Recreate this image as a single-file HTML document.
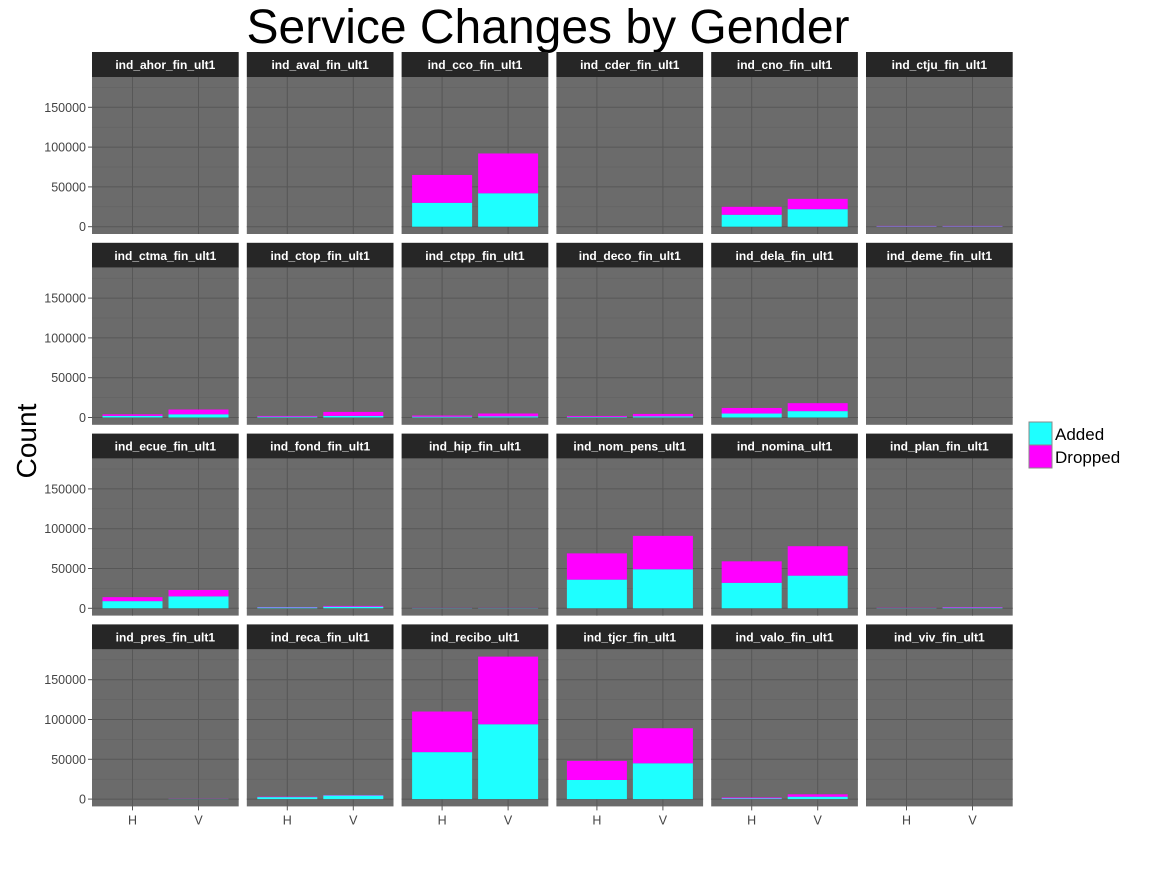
<!DOCTYPE html>
<html><head><meta charset="utf-8"><style>
body{margin:0;background:#fff;width:1152px;height:864px;overflow:hidden}
svg text{font-family:"Liberation Sans",sans-serif}
</style></head><body>
<svg id="chart" width="1152" height="864" xmlns="http://www.w3.org/2000/svg">
<text x="548" y="43" font-size="48" text-anchor="middle" fill="#000">Service Changes by Gender</text>
<text transform="translate(36,441) rotate(-90)" font-size="28" text-anchor="middle" fill="#000">Count</text>
<g>
<rect x="1029" y="422" width="23" height="23" fill="#1effff" stroke="#888"/>
<rect x="1029" y="445" width="23" height="23" fill="#ff00ff" stroke="#888"/>
<text x="1055" y="440" font-size="17">Added</text>
<text x="1055" y="463" font-size="17">Dropped</text>
</g>
<g id="panels"></g>
</svg>
<script>
const panelNames = ["ind_ahor_fin_ult1","ind_aval_fin_ult1","ind_cco_fin_ult1","ind_cder_fin_ult1","ind_cno_fin_ult1","ind_ctju_fin_ult1",
"ind_ctma_fin_ult1","ind_ctop_fin_ult1","ind_ctpp_fin_ult1","ind_deco_fin_ult1","ind_dela_fin_ult1","ind_deme_fin_ult1",
"ind_ecue_fin_ult1","ind_fond_fin_ult1","ind_hip_fin_ult1","ind_nom_pens_ult1","ind_nomina_ult1","ind_plan_fin_ult1",
"ind_pres_fin_ult1","ind_reca_fin_ult1","ind_recibo_ult1","ind_tjcr_fin_ult1","ind_valo_fin_ult1","ind_viv_fin_ult1"];
const genders = ["H","V"];
const addedH =   [0,0,30000,0,15000,500, 2000,1000,1000,800,5000,0, 9000,1000,300,36000,32000,300, 0,2500,59000,24000,1000,0];
const addedV =   [0,0,42000,0,22000,500, 4000,2000,1500,1500,8000,0, 15000,2000,300,49000,41000,800, 200,4500,94000,45000,3000,0];
const droppedH = [0,0,35000,0,10000,500, 2000,1000,1500,1200,7000,0, 5000,500,200,33000,27000,300, 0,500,51000,24000,1000,0];
const droppedV = [0,0,50000,0,13000,500, 6000,5000,3500,3000,10000,0, 8000,1000,200,42000,37000,700, 200,500,85000,44000,3000,0];
const yTicks = [0,50000,100000,150000];
const yTickLabels = ["0","50000","100000","150000"];

const NS="http://www.w3.org/2000/svg";
const g=document.getElementById('panels');
const colX0=92, colStep=154.8, pw=146.7, rowY0=52, rowStep=190.8, stripH=25, ph=157;
function mk(tag,attrs,parent){const e=document.createElementNS(NS,tag);for(const k in attrs)e.setAttribute(k,attrs[k]);parent.appendChild(e);return e;}
function yScale(v,top){return top+149.7-v*0.000796;}
function xScale(i,left){return left+40.5+i*66;}
panelNames.forEach((name,p)=>{
  const r=Math.floor(p/6), c=p%6;
  const left=colX0+c*colStep, sTop=rowY0+r*rowStep, top=sTop+stripH;
  const pg=mk('g',{},g);
  
  
  const strip=mk('rect',{x:left,y:sTop,width:pw,height:stripH,fill:'#262626'},pg);
  
  
  const st=mk('text',{x:left+pw/2,y:sTop+17,'font-size':12,'font-weight':'bold',fill:'#fff','text-anchor':'middle'},pg);
  st.textContent=name;
  
  
  const bg=mk('rect',{x:left,y:top,width:pw,height:ph,fill:'#6b6b6b'},pg);
  
  
  for(let k=0;k<4;k++){const y=yScale(25000+k*50000,top);mk('line',{x1:left,x2:left+pw,y1:y,y2:y,stroke:'#626262','stroke-width':0.6},pg);}
  yTicks.forEach(t=>{const y=yScale(t,top);mk('line',{x1:left,x2:left+pw,y1:y,y2:y,stroke:'#575757','stroke-width':1},pg);});
  genders.forEach((gd,i)=>{const x=xScale(i,left);mk('line',{x1:x,x2:x,y1:top,y2:top+ph,stroke:'#575757','stroke-width':1},pg);});
  const A=[addedH[p],addedV[p]], D=[droppedH[p],droppedV[p]];
  genders.forEach((gd,i)=>{
    const cx=xScale(i,left), bw=60;
    if(A[i]>0){const y1=yScale(A[i],top),y0=yScale(0,top);
      const b=mk('rect',{x:cx-bw/2,y:y1,width:bw,height:y0-y1,fill:'#1effff'},pg);
      
      }
    if(D[i]>0){const y1=yScale(A[i]+D[i],top),y0=yScale(A[i],top);
      const b=mk('rect',{x:cx-bw/2,y:y1,width:bw,height:y0-y1,fill:'#ff00ff'},pg);
      
      }
  });
  if(c===0){
    yTicks.forEach((t,k)=>{const y=yScale(t,top);
      mk('line',{x1:left-4,x2:left,y1:y,y2:y,stroke:'#555'},pg);
      const tl=mk('text',{x:left-6,y:y+4.5,'font-size':12.5,fill:'#444','text-anchor':'end'},pg);
      tl.textContent=yTickLabels[k];
      
      });
  }
  if(r===3){
    genders.forEach((gd,i)=>{const x=xScale(i,left);
      mk('line',{x1:x,x2:x,y1:top+ph,y2:top+ph+4,stroke:'#555'},pg);
      const tl=mk('text',{x:x,y:top+ph+18,'font-size':12.5,fill:'#444','text-anchor':'middle'},pg);
      tl.textContent=gd;
      
      });
  }
});
</script>
</body></html>
